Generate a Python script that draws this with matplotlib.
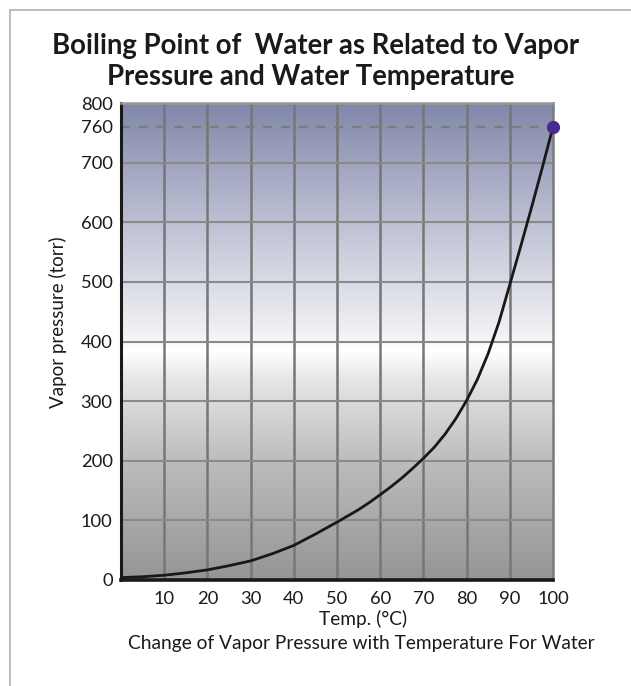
import numpy as np
import matplotlib
matplotlib.use("Agg")
import matplotlib.pyplot as plt
from matplotlib.colors import LinearSegmentedColormap
from matplotlib.lines import Line2D

# data
temp = [0, 5, 10, 15, 20, 25, 30, 35, 40, 45, 50, 52.5, 55, 57.5, 60, 62.5, 65, 67.5,
        70, 72.5, 75, 77.5, 80, 82.5, 85, 87.5, 90, 92.5, 95, 97.5, 100]
pressure = [4, 5.5, 8, 12, 17, 24, 32, 44, 58, 77, 97, 107.5, 118, 130, 143, 156.5, 171, 187,
            204, 222.5, 244.5, 270.5, 301, 336.5, 380, 432.5, 495.5, 559, 624, 691, 760]
x_ticks = [10, 20, 30, 40, 50, 60, 70, 80, 90, 100]
y_ticks = [0, 100, 200, 300, 400, 500, 600, 700, 760, 800]
boil_point = (100, 760)

plt.rcParams['font.family'] = ['Lato', 'DejaVu Sans']

fig = plt.figure(figsize=(6.31, 6.86), dpi=100)
ax = fig.add_axes([121 / 631, 1 - 580 / 686, 432 / 631, 477 / 686])

# background gradient: grey at the bottom, white in the middle, blue-grey on top
cmap = LinearSegmentedColormap.from_list(
    "bg", [(0.0, "#959597"), (0.25, "#bdbdbf"), (0.42, "#e6e6e8"),
           (0.48, "#ffffff"), (0.52, "#f0f1f4"), (0.75, "#bec1d3"), (1.0, "#8187aa")])
grad = np.linspace(0, 1, 256).reshape(-1, 1)
ax.imshow(grad, extent=[0, 100, 0, 800], origin="lower", aspect="auto", cmap=cmap, zorder=0)

# grid
for x in x_ticks[:-1]:
    ax.axvline(x, color="#767676", lw=1.8, zorder=1)
for y in [100, 200, 300, 400, 500, 600, 700]:
    ax.axhline(y, color="#8a8a8a", lw=1.5, zorder=1)
ax.axhline(760, color="#7c7c7c", lw=1.6, ls=(0, (4, 4)), zorder=1)

ax.plot(temp, pressure, color="#1a1718", lw=2.0, zorder=3, solid_joinstyle="round")
ax.plot(*boil_point, "o", color="#4a2a8e", ms=8.5, zorder=4, clip_on=False)

ax.set_xlim(0, 100)
ax.set_ylim(0, 800)
ax.set_xticks(x_ticks)
ax.set_yticks(y_ticks)
ax.tick_params(length=0, labelsize=13.2, colors="#1a1a1a", pad=6)
ax.tick_params(axis="x", pad=8)

ax.spines["left"].set_color("#1a1a1a")
ax.spines["left"].set_linewidth(2.2)
ax.spines["bottom"].set_color("#1a1a1a")
ax.spines["bottom"].set_linewidth(2.6)
ax.spines["top"].set_color("#9a9a9a")
ax.spines["top"].set_linewidth(1.8)
ax.spines["right"].set_color("#7a7a7a")
ax.spines["right"].set_linewidth(1.8)

# titles and labels
fig.text(0.5, 1 - 46 / 686, "Boiling Point of  Water as Related to Vapor",
         ha="center", va="center", fontsize=19.8, fontweight="bold", color="#1a1a1a")
fig.text(0.492, 1 - 77 / 686, "Pressure and Water Temperature",
         ha="center", va="center", fontsize=19.8, fontweight="bold", color="#1a1a1a")
fig.text(58 / 631, 1 - 322 / 686, "Vapor pressure (torr)", rotation=90,
         ha="center", va="center", fontsize=13.5, color="#1a1a1a")
fig.text(363 / 631, 1 - 619 / 686, "Temp. (\u00b0C)",
         ha="center", va="center", fontsize=13.8, color="#1a1a1a")
fig.text(361 / 631, 1 - 643 / 686, "Change of Vapor Pressure with Temperature For Water",
         ha="center", va="center", fontsize=13.8, color="#1a1a1a")

# outer frame (top and left edges)
fig.add_artist(Line2D([10 / 631, 1], [1 - 10 / 686, 1 - 10 / 686], transform=fig.transFigure,
                      color="#b0b0b0", lw=1.2))
fig.add_artist(Line2D([10 / 631, 10 / 631], [0, 1 - 10 / 686], transform=fig.transFigure,
                      color="#b0b0b0", lw=1.2))

fig.savefig("out.png", dpi=100)
